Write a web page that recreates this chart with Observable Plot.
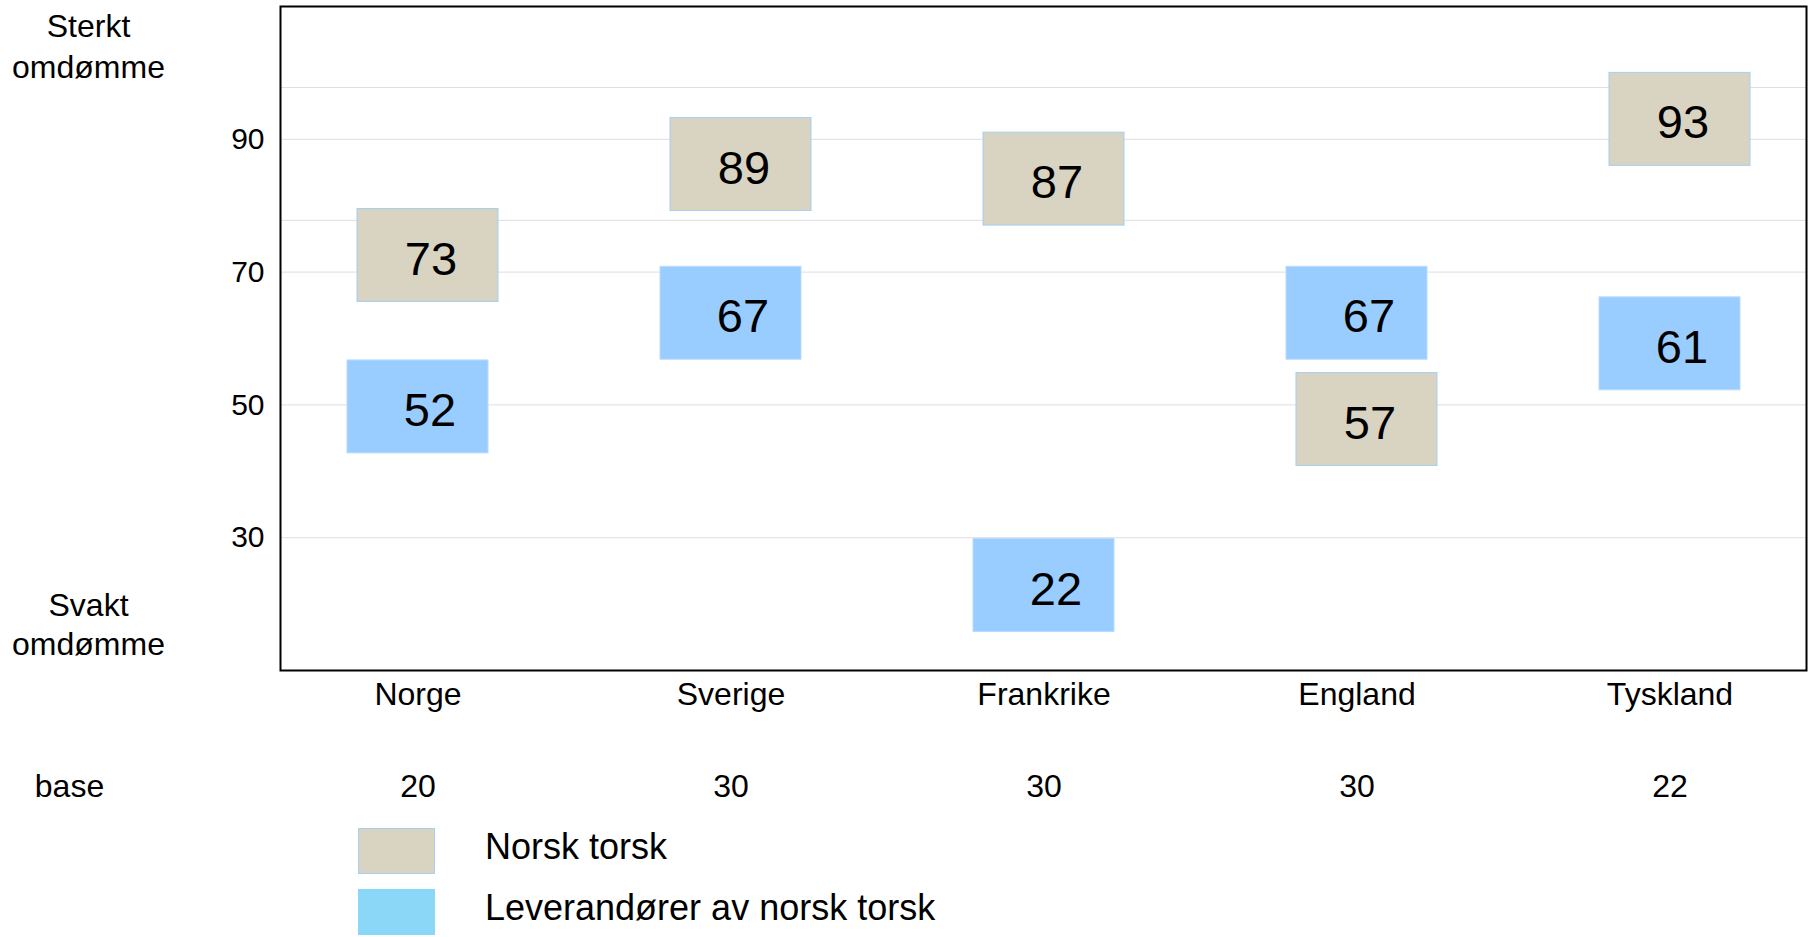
<!DOCTYPE html>
<html>
<head>
<meta charset="utf-8">
<script src="https://cdn.jsdelivr.net/npm/d3@7"></script>
<script src="https://cdn.jsdelivr.net/npm/@observablehq/plot@0.6"></script>
<style>
  html, body { margin: 0; padding: 0; background: #fff; }
  body { width: 1810px; font-family: "Liberation Sans", Arial, sans-serif; color: #000; }
  #legend { padding-left: 358px; padding-top: 16px; }
  .row { display: flex; align-items: center; height: 46px; margin-bottom: 15px; }
  .sw { width: 75px; height: 44px; border: 1px solid #a3d0f3; }
  .lab { margin-left: 50px; font-size: 36px; position: relative; top: -4px; white-space: nowrap; }
</style>
</head>
<body>
<div id="chart"></div>
<div id="legend"></div>
<script>
// ---- data ----
const countries = ["Norge", "Sverige", "Frankrike", "England", "Tyskland"];
const base = [20, 30, 30, 30, 22];
const seriesNames = ["Norsk torsk", "Leverandører av norsk torsk"];
const norskTorsk = [73, 89, 87, 57, 93];
const leverandorer = [52, 67, 22, 67, 61];
// vertical centre of each box as placed in the original chart (axis units)
const norskTorskPlaced = [72.5, 86.2, 84.0, 47.8, 93.0];
const leverandorerPlaced = [49.7, 63.8, 22.8, 63.8, 59.2];
const yTicks = [30, 50, 70, 90];
const gridValues = [30, 50, 70, 77.8, 90, 97.8];
const yDomain = [10, 110];

// ---- styles ----
const beige = "#d9d3c1";
const blue = "#99ccff";
const legendBlue = "#8ad7f8";
const half = 7; // half box height in axis units

const rowsN = countries.map((c, i) => ({country: c, value: norskTorsk[i], placed: norskTorskPlaced[i]}));
const rowsL = countries.map((c, i) => ({country: c, value: leverandorer[i], placed: leverandorerPlaced[i]}));

const chart = Plot.plot({
  width: 1810,
  height: 812,
  marginLeft: 280,
  marginRight: 4,
  marginTop: 6,
  marginBottom: 142,
  style: {fontFamily: '"Liberation Sans", Arial, sans-serif', fontSize: "30px", color: "#000", background: "#fff"},
  x: {type: "band", domain: countries, paddingInner: 0.55, paddingOuter: 0.2125, label: null},
  y: {domain: yDomain, label: null},
  marks: [
    Plot.ruleY(gridValues, {stroke: "#dedede", strokeWidth: 1}),
    Plot.barY(rowsN, {x: "country", y1: d => d.placed - half, y2: d => d.placed + half, fill: beige, stroke: "#a3d0f3", strokeWidth: 1, dx: 10}),
    Plot.barY(rowsL, {x: "country", y1: d => d.placed - half, y2: d => d.placed + half, fill: blue, stroke: "#b8dcff", strokeWidth: 1, dx: 0}),
    Plot.text(rowsN, {x: "country", y: "placed", text: "value", fontSize: 47, dx: 13, dy: 4, fill: "#000", lineAnchor: "middle"}),
    Plot.text(rowsL, {x: "country", y: "placed", text: "value", fontSize: 47, dx: 12, dy: 4, fill: "#000", lineAnchor: "middle"}),
    Plot.frame({stroke: "#000", strokeWidth: 2}),
    Plot.axisY({ticks: yTicks, tickSize: 0, tickPadding: 16, fontSize: 30, label: null}),
    Plot.axisX({tickSize: 0, tickPadding: 12, fontSize: 32, label: null}),
    Plot.text(countries, {x: d => d, text: (d, i) => String(base[i]), frameAnchor: "bottom", lineAnchor: "middle", dy: 116.5, fontSize: 32}),
    Plot.text(["base"], {frameAnchor: "bottom-left", lineAnchor: "middle", dx: -211, dy: 116.5, fontSize: 32, textAnchor: "middle"}),
    Plot.text(["Sterkt\nomdømme"], {frameAnchor: "top-left", dx: -192, dy: 2, lineAnchor: "top", lineHeight: 1.266, fontSize: 32, textAnchor: "middle"}),
    Plot.text(["Svakt\nomdømme"], {frameAnchor: "top-left", dx: -192, dy: 580.6, lineAnchor: "top", lineHeight: 1.25, fontSize: 32, textAnchor: "middle"})
  ]
});
document.getElementById("chart").appendChild(chart);

// ---- legend ----
const legendColors = [beige, legendBlue];
const legend = document.getElementById("legend");
seriesNames.forEach((name, i) => {
  const row = document.createElement("div");
  row.className = "row";
  const sw = document.createElement("div");
  sw.className = "sw";
  sw.style.background = legendColors[i];
  if (i === 1) sw.style.borderColor = legendColors[i];
  const lab = document.createElement("div");
  lab.className = "lab";
  lab.textContent = name;
  row.appendChild(sw);
  row.appendChild(lab);
  legend.appendChild(row);
});
</script>
</body>
</html>
